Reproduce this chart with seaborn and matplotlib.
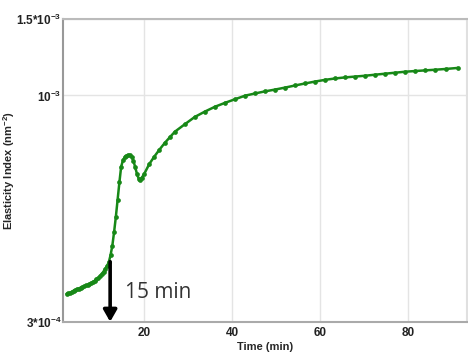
import matplotlib
matplotlib.use("Agg")
import matplotlib.pyplot as plt
import seaborn as sns
import pandas as pd

# elasticity index over time
time_min = [2.4, 2.8, 3.2, 3.6, 4.0, 4.4, 4.8, 5.2, 5.6, 6.0, 6.4, 6.8, 7.2, 7.6,
            8.0, 8.4, 8.8, 9.2, 9.6, 10.0, 10.4, 10.8, 11.2, 11.6, 12.0, 12.4,
            12.8, 13.2, 13.6, 14.0, 14.4, 14.8, 15.2, 15.6, 16.0, 16.4, 16.8,
            17.2, 17.6, 18.0, 18.4, 18.8, 19.1, 19.5, 20.0, 21.2, 22.3, 23.5,
            24.7, 25.9, 27.0, 29.3, 31.5, 33.8, 36.1, 38.4, 40.6, 42.9, 45.2,
            47.4, 49.7, 52.0, 54.3, 56.5, 58.8, 61.1, 63.4, 65.6, 67.9, 70.2,
            72.4, 74.7, 77.0, 79.3, 81.5, 83.8, 86.1, 88.6, 91.2]
elasticity_e4 = [3.48, 3.49, 3.50, 3.52, 3.54, 3.55, 3.57, 3.58, 3.60, 3.61, 3.62,
                 3.64, 3.65, 3.67, 3.69, 3.71, 3.73, 3.76, 3.79, 3.83, 3.87, 3.92,
                 3.98, 4.04, 4.12, 4.28, 4.50, 4.84, 5.25, 5.75, 6.30, 6.85, 7.08,
                 7.20, 7.26, 7.29, 7.29, 7.22, 7.06, 6.82, 6.58, 6.42, 6.38, 6.46,
                 6.58, 6.95, 7.22, 7.50, 7.77, 8.02, 8.25, 8.59, 8.92, 9.18, 9.42,
                 9.62, 9.80, 9.99, 10.11, 10.22, 10.32, 10.43, 10.55, 10.66, 10.77,
                 10.87, 10.95, 11.01, 11.06, 11.11, 11.17, 11.23, 11.29, 11.35,
                 11.39, 11.43, 11.47, 11.52, 11.58]

x_ticks = [20, 40, 60, 80]
y_ticks = [3e-4, 1e-3, 1.5e-3]
y_tick_labels = ["3*10$^{-4}$", "10$^{-3}$", "1.5*10$^{-3}$"]

arrow_time = 12.3
arrow_top = 4.13e-4
note = "15 min"

df = pd.DataFrame({"Time (min)": time_min,
                   "Elasticity": [v * 1e-4 for v in elasticity_e4]})

sns.set_style("whitegrid")
plt.rcParams['font.family'] = ['Liberation Sans', 'DejaVu Sans']
plt.rcParams['mathtext.fontset'] = 'custom'
plt.rcParams['mathtext.rm'] = 'Liberation Sans:bold'
plt.rcParams['mathtext.bf'] = 'Liberation Sans:bold'
plt.rcParams['mathtext.default'] = 'bf'

fig = plt.figure(figsize=(4.68, 3.54), dpi=100)
ax = fig.add_axes([0.1346, 0.0910, 0.8625, 0.8545])

sns.lineplot(data=df, x="Time (min)", y="Elasticity", ax=ax, color="#178817",
             linewidth=1.8, marker="o", markersize=3.4, markeredgewidth=0)

ax.set_yscale("log")
ax.set_xlim(1.6, 93.2)
ax.set_ylim(3e-4, 1.5e-3)
ax.set_xticks(x_ticks)
ax.set_yticks(y_ticks)
ax.set_yticklabels(y_tick_labels)
ax.minorticks_off()
ax.tick_params(axis="y", length=0, pad=1, labelsize=8.5)
ax.tick_params(axis="x", length=0, pad=4, labelsize=8.5)
for lab in ax.get_xticklabels() + ax.get_yticklabels():
    lab.set_fontweight("bold")
    lab.set_color("#222222")

ax.grid(True, color="#e4e4e4", linewidth=1)
ax.set_xlabel("Time (min)", fontsize=8, fontweight="bold", labelpad=2)
ax.set_ylabel("Elasticity Index (nm$^{-2}$)", fontsize=8, fontweight="bold")
ax.yaxis.set_label_coords(-0.115, 0.5)

ax.spines["left"].set_color("#999999")
ax.spines["bottom"].set_color("#aaaaaa")
ax.spines["top"].set_color("#bbbbbb")
ax.spines["right"].set_color("#e0e0e0")
for s in ax.spines.values():
    s.set_linewidth(1.5)

# arrow marking the onset
ax.annotate("", xy=(arrow_time, 3e-4), xytext=(arrow_time, arrow_top),
            arrowprops=dict(arrowstyle="-|>,head_width=0.4,head_length=0.7",
                            color="black", lw=2.6, shrinkA=0, shrinkB=0),
            annotation_clip=False)
ax.text(15.6, 3.5e-4, note, fontsize=15, family=["Open Sans", "DejaVu Sans"],
        color="#333333", va="center", ha="left")

fig.savefig("out.png", dpi=100)
